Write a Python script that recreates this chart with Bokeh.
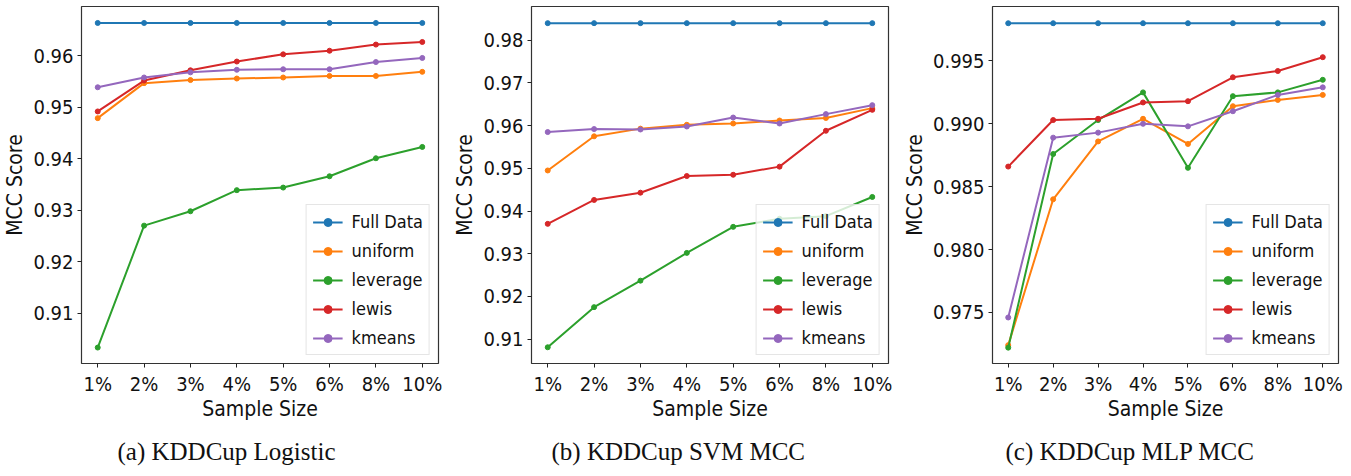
from bokeh.plotting import figure
from bokeh.layouts import row
from bokeh.models import Range1d, FixedTicker, PrintfTickFormatter, Title
from bokeh.embed import file_html
from bokeh.resources import INLINE

sizes = ["1%", "2%", "3%", "4%", "5%", "6%", "8%", "10%"]
methods = ["Full Data", "uniform", "leverage", "lewis", "kmeans"]
colors = ["#1f77b4", "#ff7f0e", "#2ca02c", "#d62728", "#9467bd"]

full_a = [0.9664, 0.9664, 0.9664, 0.9664, 0.9664, 0.9664, 0.9664, 0.9664]
uniform_a = [0.9479, 0.9547, 0.9553, 0.9556, 0.9558, 0.9561, 0.9561, 0.9569]
leverage_a = [0.9033, 0.9270, 0.9298, 0.9339, 0.9344, 0.9366, 0.9401, 0.9423]
lewis_a = [0.9492, 0.9552, 0.9572, 0.9589, 0.9603, 0.9610, 0.9622, 0.9627]
kmeans_a = [0.9539, 0.9558, 0.9568, 0.9573, 0.9574, 0.9574, 0.9588, 0.9596]

full_b = [0.9840, 0.9840, 0.9840, 0.9840, 0.9840, 0.9840, 0.9840, 0.9840]
uniform_b = [0.9495, 0.9575, 0.9593, 0.9602, 0.9605, 0.9612, 0.9618, 0.9641]
leverage_b = [0.9081, 0.9175, 0.9237, 0.9302, 0.9363, 0.9382, 0.9388, 0.9433]
lewis_b = [0.9370, 0.9426, 0.9443, 0.9482, 0.9485, 0.9504, 0.9588, 0.9637]
kmeans_b = [0.9585, 0.9592, 0.9591, 0.9598, 0.9619, 0.9605, 0.9627, 0.9648]

full_c = [0.9980, 0.9980, 0.9980, 0.9980, 0.9980, 0.9980, 0.9980, 0.9980]
uniform_c = [0.9724, 0.9840, 0.9886, 0.9904, 0.9884, 0.9914, 0.9919, 0.9923]
leverage_c = [0.9722, 0.9876, 0.9903, 0.9925, 0.9865, 0.9922, 0.9925, 0.9935]
lewis_c = [0.9866, 0.9903, 0.9904, 0.9917, 0.9918, 0.9937, 0.9942, 0.9953]
kmeans_c = [0.9746, 0.9889, 0.9893, 0.9900, 0.9898, 0.9910, 0.9923, 0.9929]

ticks_a = [0.91, 0.92, 0.93, 0.94, 0.95, 0.96]
ticks_b = [0.91, 0.92, 0.93, 0.94, 0.95, 0.96, 0.97, 0.98]
ticks_c = [0.975, 0.980, 0.985, 0.990, 0.995]

captions = ["(a) KDDCup Logistic", "(b) KDDCup SVM MCC", "(c) KDDCup MLP MCC"]

SANS = "'Liberation Sans Narrow', 'DejaVu Sans Condensed', 'DejaVu Sans'"
SERIF = "'Liberation Serif', 'DejaVu Serif'"


def make_panel(series, yr, ticks, fmt, caption, width, left, cap_offset):
    xs = list(range(len(sizes)))
    p = figure(width=width, height=476, output_backend="svg", toolbar_location=None,
               x_range=Range1d(-0.35, len(sizes) - 1 + 0.35), y_range=Range1d(*yr),
               min_border_left=left, min_border_right=width - 438 if width == 450 else 13,
               min_border_top=6, min_border_bottom=111)
    p.grid.visible = False
    p.outline_line_color = "#333333"
    p.outline_line_width = 1.2
    p.background_fill_color = "white"
    p.border_fill_color = "white"

    for name, col, ys in zip(methods, colors, series):
        p.line(xs, ys, line_color=col, line_width=2, legend_label=name)
        p.scatter(xs, ys, size=5, fill_color=col, line_color=col, legend_label=name)

    p.xaxis.ticker = FixedTicker(ticks=xs)
    p.xaxis.major_label_overrides = {i: s for i, s in enumerate(sizes)}
    p.yaxis.ticker = FixedTicker(ticks=ticks)
    p.yaxis.formatter = PrintfTickFormatter(format=fmt)

    for ax in (p.xaxis[0], p.yaxis[0]):
        ax.axis_line_color = None
        ax.major_tick_line_color = "#222222"
        ax.major_tick_out = 4
        ax.major_tick_in = 0
        ax.minor_tick_line_color = None
        ax.major_label_text_font = SANS
        ax.major_label_text_font_size = "20px"
        ax.major_label_text_color = "#111111"
        ax.axis_label_text_font = SANS
        ax.axis_label_text_font_size = "21px"
        ax.axis_label_text_font_style = "normal"
        ax.axis_label_text_color = "#111111"
        ax.major_label_standoff = 4
    p.xaxis[0].axis_label_standoff = -2
    p.yaxis[0].axis_label_standoff = 3
    p.xaxis.axis_label = "Sample Size"
    p.yaxis.axis_label = "MCC Score"

    lg = p.legend[0]
    lg.location = "bottom_right"
    lg.margin = 8
    lg.padding = 6
    lg.spacing = 8
    lg.glyph_width = 30
    lg.glyph_height = 20
    lg.label_height = 20
    lg.label_standoff = 9
    lg.label_text_font = SANS
    lg.label_text_font_size = "18px"
    lg.label_text_color = "#111111"
    lg.border_line_color = "#cccccc"
    lg.border_line_width = 1
    lg.background_fill_alpha = 0.8

    t = Title(text=caption, align="left", offset=cap_offset, text_font=SERIF,
              text_font_size="25px", text_font_style="normal", text_color="#111111",
              standoff=24)
    p.add_layout(t, "below")
    return p


pa = make_panel([full_a, uniform_a, leverage_a, lewis_a, kmeans_a], (0.9002, 0.9696),
                ticks_a, "%.2f", captions[0], 450, 69, 36)
pb = make_panel([full_b, uniform_b, leverage_b, lewis_b, kmeans_b], (0.9043, 0.9879),
                ticks_b, "%.2f", captions[1], 450, 69, 20)
pc = make_panel([full_c, uniform_c, leverage_c, lewis_c, kmeans_c], (0.97094, 0.99933),
                ticks_c, "%.3f", captions[2], 451, 77, 13)

layout = row(pa, pb, pc, spacing=0)
open("out.html", "w").write(file_html(layout, INLINE))
